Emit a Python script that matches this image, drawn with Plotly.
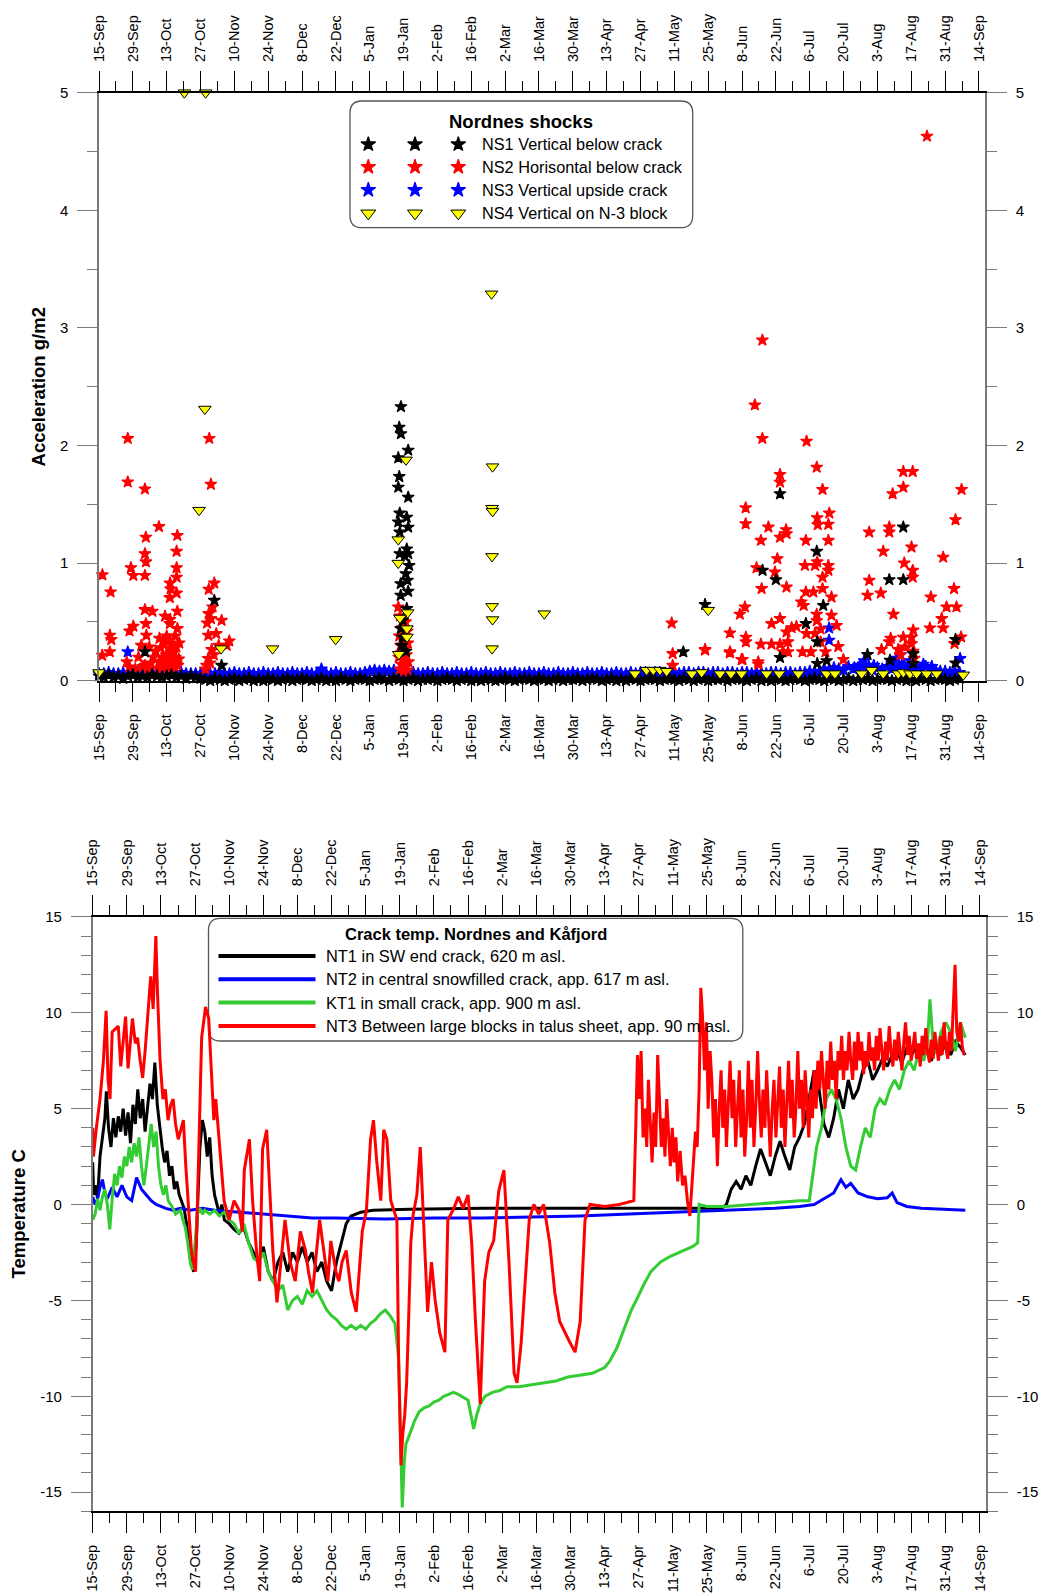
import numpy as np
import pandas as pd
import plotly.graph_objects as go

W, H = 1043, 1595
START = pd.Timestamp("2008-09-15")
END_DAY = 366.5
DAY_MS = 86400000

# ================= DATA =================
# Nordnes shocks, acceleration g/m2. Days counted from 15-Sep.
# Background readings (one value every 2 days from 15-Sep)
NS1_BASE = [0.04, 0.03, 0.05, 0.03, 0.04, 0.02, 0.04, 0.05, 0.03, 0.04,
            0.03, 0.05, 0.04, 0.03, 0.04, 0.05, 0.03, 0.04, 0.02, 0.04,
            0.03, 0.02, 0.01, 0.00, 0.02, 0.01, 0.00, 0.01, 0.02, 0.00,
            0.01, 0.02, 0.00, 0.01, 0.00, 0.02, 0.01, 0.00, 0.01, 0.02,
            0.00, 0.01, 0.02, 0.01, 0.00, 0.01, 0.02, 0.00, 0.01, 0.00,
            0.02, 0.01, 0.00, 0.01, 0.02, 0.01, 0.00, 0.01, 0.02, 0.01,
            0.00, 0.02, 0.01, 0.00, 0.01, 0.02, 0.00, 0.01, 0.01, 0.02,
            0.00, 0.01, 0.02, 0.01, 0.00, 0.01, 0.02, 0.00, 0.01, 0.00,
            0.02, 0.01, 0.00, 0.01, 0.02, 0.01, 0.00, 0.01, 0.02, 0.01,
            0.00, 0.02, 0.01, 0.00, 0.01, 0.02, 0.00, 0.01, 0.01, 0.02,
            0.00, 0.01, 0.02, 0.01, 0.00, 0.01, 0.02, 0.00, 0.01, 0.00,
            0.02, 0.01, 0.00, 0.01, 0.02, 0.01, 0.00, 0.01, 0.02, 0.01,
            0.00, 0.02, 0.01, 0.00, 0.01, 0.02, 0.00, 0.01, 0.01, 0.02,
            0.00, 0.01, 0.02, 0.01, 0.00, 0.01, 0.02, 0.00, 0.01, 0.00,
            0.02, 0.01, 0.00, 0.01, 0.02, 0.01, 0.00, 0.01, 0.02, 0.01,
            0.00, 0.02, 0.01, 0.00, 0.01, 0.02, 0.00, 0.01, 0.01, 0.02,
            0.00, 0.01, 0.02, 0.01, 0.00, 0.01, 0.02, 0.00, 0.01, 0.00,
            0.02, 0.01, 0.00, 0.01, 0.02, 0.01, 0.00, 0.01, 0.02]
NS3_BASE = [0.06, 0.06, 0.07, 0.06, 0.06, 0.07, 0.06, 0.06, 0.07, 0.06,
            0.06, 0.07, 0.06, 0.06, 0.07, 0.06, 0.06, 0.07, 0.06, 0.06,
            0.06, 0.06, 0.07, 0.06, 0.06, 0.07, 0.06, 0.06, 0.07, 0.06,
            0.06, 0.07, 0.06, 0.06, 0.07, 0.06, 0.06, 0.07, 0.06, 0.06,
            0.07, 0.06, 0.06, 0.07, 0.06, 0.06, 0.07, 0.06, 0.06, 0.07,
            0.06, 0.06, 0.07, 0.06, 0.06, 0.07, 0.08, 0.09, 0.08, 0.09,
            0.08, 0.09, 0.07, 0.06, 0.06, 0.07, 0.06, 0.06, 0.07, 0.06,
            0.06, 0.07, 0.06, 0.06, 0.07, 0.06, 0.06, 0.07, 0.06, 0.06,
            0.07, 0.06, 0.06, 0.07, 0.06, 0.06, 0.07, 0.06, 0.06, 0.07,
            0.06, 0.06, 0.07, 0.06, 0.06, 0.07, 0.06, 0.06, 0.07, 0.06,
            0.06, 0.07, 0.06, 0.06, 0.07, 0.06, 0.06, 0.07, 0.06, 0.06,
            0.07, 0.06, 0.07, 0.07, 0.06, 0.07, 0.07, 0.06, 0.07, 0.07,
            0.06, 0.07, 0.07, 0.06, 0.07, 0.07, 0.06, 0.07, 0.07, 0.06,
            0.07, 0.07, 0.06, 0.07, 0.07, 0.06, 0.07, 0.07, 0.06, 0.07,
            0.07, 0.06, 0.07, 0.07, 0.06, 0.07, 0.07, 0.08, 0.07, 0.08,
            0.10, 0.09, 0.11, 0.10, 0.09, 0.12, 0.10, 0.11, 0.13, 0.10,
            0.09, 0.11, 0.10, 0.12, 0.10, 0.11, 0.13, 0.10, 0.12, 0.11,
            0.10, 0.12, 0.10, 0.09, 0.08, 0.08, 0.07, 0.08, 0.07]

# Events: (day after 15-Sep, g/m2)
NS1_EVENTS = [(19.0, 0.245), (47.7, 0.683), (50.7, 0.13),
              (124.9, 2.33), (124.2, 2.155), (124.9, 2.10), (127.9, 1.96), (123.8, 1.895),
              (124.2, 1.736), (123.8, 1.645), (127.9, 1.56), (124.4, 1.425), (127.3, 1.39),
              (123.8, 1.35), (127.9, 1.305), (124.4, 1.263), (127.3, 1.12), (124.4, 1.08),
              (127.9, 1.08), (126.5, 1.06), (128.3, 0.98), (126.9, 0.91), (127.6, 0.853),
              (124.8, 0.825), (127.9, 0.76), (124.8, 0.726), (127.3, 0.613), (125.6, 0.513),
              (124.8, 0.443), (125.6, 0.372), (125.2, 0.30), (127.0, 0.25),
              (241.7, 0.245), (250.7, 0.647), (274.5, 0.938), (280.0, 0.859), (281.7, 1.589),
              (281.7, 0.197), (292.4, 0.486), (296.9, 1.10), (297.1, 0.33), (297.1, 0.146),
              (299.6, 0.64), (301.0, 0.17), (317.9, 0.222), (326.9, 0.859), (327.2, 0.174),
              (332.7, 1.306), (332.7, 0.859), (336.8, 0.23), (336.8, 0.146), (354.3, 0.35),
              (354.3, 0.15)]
NS2_EVENTS = [(11.9, 2.06), (45.6, 2.06), (11.9, 1.69), (46.3, 1.67), (19.0, 1.63), (24.8, 1.31),
              (19.4, 1.22), (32.4, 1.235), (19.0, 1.08), (19.4, 1.01), (32.1, 1.10), (13.2, 0.96),
              (14.2, 0.895), (19.0, 0.895), (32.1, 0.96), (32.1, 0.88), (1.4, 0.90), (4.8, 0.754),
              (29.4, 0.83), (29.6, 0.78), (32.1, 0.745), (29.3, 0.706), (19.0, 0.604), (22.1, 0.59),
              (32.4, 0.59), (27.3, 0.548), (29.4, 0.52), (29.3, 0.485), (19.4, 0.485), (14.2, 0.463),
              (12.6, 0.423), (32.4, 0.443), (4.5, 0.386), (5.1, 0.35), (19.6, 0.386), (29.3, 0.344),
              (4.5, 0.245), (1.3, 0.216), (11.5, 0.16), (12.6, 0.117), (16.3, 0.20), (20.8, 0.287),
              (19.0, 0.13), (22.5, 0.20), (26.2, 0.20), (28.3, 0.14), (30.3, 0.23), (32.0, 0.287),
              (33.0, 0.185), (31.2, 0.117), (27.3, 0.13), (24.9, 0.16), (29.3, 0.27),
              (24.5, 0.10), (25.5, 0.28), (26.0, 0.12), (26.8, 0.33), (27.8, 0.22), (28.6, 0.10),
              (29.8, 0.16), (30.6, 0.30), (31.6, 0.20), (32.6, 0.13), (33.2, 0.32), (23.5, 0.25),
              (25.0, 0.36), (28.0, 0.38), (30.0, 0.09), (31.5, 0.38), (15.0, 0.10), (17.5, 0.30),
              (18.2, 0.12), (20.0, 0.10), (21.5, 0.15),
              (45.4, 0.777), (47.7, 0.83), (47.0, 0.627), (45.4, 0.57), (46.3, 0.528), (44.7, 0.49),
              (50.7, 0.513), (45.2, 0.386), (53.9, 0.338), (52.8, 0.30), (46.6, 0.265), (45.2, 0.188),
              (44.5, 0.13), (44.0, 0.10), (46.0, 0.15), (47.5, 0.22), (48.5, 0.40), (49.5, 0.30),
              (123.8, 0.627), (124.5, 0.55), (126.8, 0.5), (125.5, 0.45), (127.5, 0.42), (124.2, 0.38),
              (126.2, 0.35), (127.8, 0.32), (124.8, 0.3), (126.5, 0.27), (125.2, 0.24), (127.2, 0.22),
              (124.0, 0.2), (126.0, 0.18), (128.0, 0.16), (125.0, 0.14), (126.8, 0.12), (124.5, 0.1),
              (127.5, 0.09), (125.8, 0.08),
              (236.9, 0.49), (237.3, 0.23), (237.3, 0.13), (250.7, 0.26), (261.0, 0.236),
              (265.8, 0.18), (272.7, 0.14),
              (274.4, 2.896), (271.3, 2.345), (274.4, 2.06), (292.7, 2.036), (296.9, 1.815),
              (281.7, 1.753), (281.7, 1.688), (299.3, 1.626), (332.7, 1.778), (336.6, 1.778),
              (332.7, 1.645), (328.3, 1.589), (356.8, 1.626), (267.5, 1.47), (267.5, 1.334),
              (276.9, 1.306), (273.8, 1.193), (281.7, 1.22), (284.2, 1.283), (284.4, 1.25),
              (292.4, 1.193), (297.1, 1.385), (297.3, 1.326), (301.7, 1.33), (302.1, 1.425),
              (301.7, 1.193), (318.6, 1.263), (326.9, 1.306), (326.9, 1.263), (324.4, 1.10),
              (336.1, 1.136), (333.1, 1.0), (336.6, 0.938), (336.6, 0.88), (349.2, 1.05),
              (354.3, 1.368), (280.6, 1.037), (272.0, 0.96), (279.6, 0.924), (292.0, 0.98),
              (296.2, 0.98), (301.7, 0.98), (301.7, 0.938), (297.1, 1.01), (299.3, 0.88),
              (274.1, 0.783), (284.4, 0.796), (292.4, 0.754), (295.5, 0.754), (299.3, 0.783),
              (303.0, 0.711), (317.9, 0.726), (323.4, 0.745), (318.6, 0.853), (344.1, 0.711),
              (353.7, 0.783), (350.6, 0.627), (354.7, 0.627), (348.6, 0.528), (349.2, 0.448),
              (343.7, 0.448), (336.8, 0.43), (356.6, 0.372), (353.9, 0.315), (328.6, 0.565),
              (336.1, 0.37), (336.1, 0.315), (332.7, 0.37), (326.9, 0.33), (323.7, 0.265),
              (330.6, 0.265), (333.4, 0.287), (267.2, 0.627), (265.1, 0.565), (261.0, 0.406),
              (261.0, 0.245), (250.7, 0.265), (267.6, 0.37), (267.6, 0.33), (273.8, 0.31),
              (278.2, 0.31), (266.2, 0.18), (272.7, 0.16), (278.2, 0.485), (281.7, 0.528),
              (284.4, 0.414), (286.5, 0.45), (288.5, 0.46), (285.0, 0.33), (281.7, 0.31),
              (283.0, 0.245), (285.0, 0.245), (291.0, 0.245), (294.5, 0.245), (290.5, 0.669),
              (291.5, 0.64), (292.7, 0.40), (296.9, 0.565), (296.9, 0.51), (296.2, 0.40),
              (298.5, 0.44), (298.5, 0.33), (300.5, 0.245), (303.0, 0.556), (305.1, 0.47),
              (305.8, 0.29), (307.9, 0.18), (327.5, 0.36), (331.6, 0.22), (336.8, 0.25),
              (337.2, 0.19), (342.5, 4.63)]
NS3_EVENTS = [(11.9, 0.245), (92.0, 0.10), (302.0, 0.448), (302.0, 0.344), (356.2, 0.188),
              (312.5, 0.11), (314.8, 0.13), (316.5, 0.17), (318.5, 0.12), (320.5, 0.13),
              (328.0, 0.15), (330.0, 0.19), (331.5, 0.22), (333.0, 0.14), (335.5, 0.17),
              (338.0, 0.12), (341.0, 0.14), (344.5, 0.12)]
NS4_EVENTS = [(35.3, 5.0), (44.1, 5.0), (43.8, 2.31), (41.4, 1.45), (50.5, 0.273), (71.8, 0.273),
              (97.9, 0.352), (127.0, 1.878), (123.8, 1.2), (123.8, 1.0), (127.7, 0.579),
              (124.5, 0.533), (127.4, 0.443), (127.4, 0.372), (124.0, 0.225),
              (162.4, 3.29), (162.8, 1.82), (162.6, 1.467), (162.8, 1.44), (162.6, 1.057),
              (162.6, 0.632), (162.8, 0.52), (162.6, 0.273), (184.2, 0.57), (252.0, 0.6),
              (0.0, 0.07), (221.7, 0.06), (226.5, 0.09), (229.3, 0.09), (232.0, 0.09),
              (234.8, 0.08), (245.2, 0.06), (249.3, 0.07), (256.9, 0.06), (261.4, 0.06),
              (265.8, 0.06), (276.2, 0.06), (281.4, 0.06), (289.3, 0.06), (301.0, 0.06),
              (304.4, 0.06), (315.5, 0.06), (319.6, 0.09), (324.4, 0.06), (330.6, 0.06),
              (332.7, 0.07), (335.5, 0.06), (338.2, 0.06), (342.4, 0.06), (346.5, 0.06),
              (357.5, 0.05)]

# Crack temperatures (deg C): (day after 15-Sep, value)
NT1 = [(0, 2.2), (0.4, 0.5), (1, 1.0), (2, 0.3), (3, 2.5), (4, 3.5), (5, 4.5), (5.6, 5.9),
       (6.5, 4.0), (7.5, 3.0), (8.5, 4.5), (9.5, 3.5), (10.5, 4.6), (11.5, 3.8), (12.5, 5.0),
       (13.5, 3.6), (14.5, 4.8), (15.5, 3.2), (16.5, 5.2), (17.5, 4.2), (18.5, 6.0), (19.5, 4.5),
       (20.5, 5.5), (21.5, 3.8), (22.5, 5.0), (23.5, 6.3), (24.5, 5.5), (25.5, 7.4), (26.5, 5.2),
       (27.5, 4.0), (28.5, 3.0), (29.5, 2.2), (30.5, 2.8), (31.5, 1.5), (32.5, 2.0), (33.5, 0.8),
       (34.5, 1.2), (35.5, 0.5), (36.5, 0.2), (37.5, -0.2), (38.5, -1.0), (39.5, -2.0),
       (40.5, -3.2), (41.5, -3.5), (42.5, -2.0), (43.2, 0.5), (44, 3.0), (45, 4.4), (46, 3.8),
       (47, 2.5), (48, 3.5), (49, 1.5), (50, 0.5), (51, 0.0), (52, -0.5), (53, 0.0), (54, -0.8),
       (56, -1.0), (58, -1.3), (60, -1.5), (62, -1.2), (64, -2.0), (66, -2.5), (68, -3.0),
       (70, -2.2), (72, -3.5), (74, -4.0), (76, -3.0), (78, -2.5), (80, -3.5), (82, -2.5),
       (84, -3.0), (86, -2.2), (88, -3.0), (90, -2.5), (92, -3.5), (94, -3.0), (96, -4.0),
       (98, -4.5), (100, -3.0), (102, -2.0), (104, -1.0), (106, -0.6), (108, -0.5), (110, -0.4),
       (115, -0.3), (130, -0.25), (160, -0.2), (200, -0.2), (240, -0.2), (258, -0.2), (260, 0.0),
       (262, 0.8), (264, 1.2), (266, 0.8), (268, 1.5), (270, 1.0), (272, 2.0), (274, 2.9),
       (276, 2.2), (278, 1.5), (280, 2.5), (282, 3.3), (284, 2.5), (286, 1.8), (288, 3.0),
       (290, 3.5), (292, 4.2), (294, 5.5), (296, 7.0), (298, 6.0), (300, 4.2), (302, 3.5),
       (304, 4.5), (306, 6.0), (308, 5.0), (310, 6.5), (312, 5.5), (314, 6.0), (316, 7.0),
       (318, 7.5), (320, 6.5), (322, 7.0), (324, 7.6), (326, 7.2), (328, 7.8), (330, 8.0),
       (332, 7.4), (334, 8.2), (336, 7.8), (338, 8.3), (340, 7.6), (342, 8.0), (344, 7.5),
       (346, 8.2), (348, 7.8), (350, 8.5), (352, 7.8), (354, 8.5), (356, 8.2), (358, 7.8)]
NT2 = [(0, 0.4), (1, 0.0), (2, 0.3), (3, 0.9), (4, 1.3), (5, 0.6), (6, 0.3), (8, 0.9), (10, 0.4),
       (12, 1.0), (14, 0.4), (16, 0.2), (18, 1.4), (20, 0.8), (22, 0.5), (24, 0.2), (26, 0.0),
       (28, -0.1), (30, -0.2), (33, -0.3), (36, -0.2), (40, -0.3), (45, -0.2), (50, -0.3),
       (60, -0.4), (70, -0.5), (80, -0.6), (90, -0.7), (100, -0.7), (120, -0.75), (140, -0.7),
       (160, -0.7), (180, -0.65), (200, -0.6), (220, -0.5), (240, -0.4), (260, -0.3),
       (280, -0.2), (290, -0.1), (296, 0.0), (300, 0.3), (304, 0.6), (307, 1.3), (309, 0.9),
       (311, 1.1), (314, 0.6), (318, 0.4), (322, 0.3), (326, 0.35), (328, 0.6), (330, 0.1),
       (334, -0.1), (340, -0.2), (358, -0.3)]
KT1 = [(0, -0.8), (1, -0.5), (2, 0.3), (3, -0.3), (4, 0.4), (5, 0.8), (6, 0.0), (7, -1.3),
       (8, 0.3), (9, 1.6), (10, 1.0), (11, 2.0), (12, 1.4), (13, 2.5), (14, 2.0), (15, 3.0),
       (16, 2.2), (17, 3.2), (18, 2.5), (19, 3.5), (20, 2.0), (21, 1.0), (22, 2.0), (23, 3.0),
       (24, 4.2), (25, 3.0), (26, 3.8), (27, 2.0), (28, 1.0), (29, 0.5), (30, 1.0), (31, 0.2),
       (32, 0.0), (33, -0.2), (34, -0.5), (36, -0.3), (37, -0.8), (38, -1.2), (39, -2.0),
       (40, -3.0), (41, -3.4), (42, -2.0), (43, -0.5), (44, -0.2), (45, -0.5), (46, -0.3),
       (48, -0.5), (50, -0.3), (52, -0.6), (54, -0.4), (56, -0.8), (58, -1.0), (60, -1.5),
       (62, -1.0), (64, -2.0), (66, -2.8), (68, -3.0), (70, -2.5), (72, -3.5), (74, -4.0),
       (76, -4.5), (78, -4.2), (80, -5.5), (82, -5.0), (84, -4.8), (86, -5.2), (88, -4.5),
       (90, -4.8), (92, -4.5), (94, -5.0), (96, -5.5), (98, -5.8), (100, -6.0), (102, -6.3),
       (104, -6.5), (106, -6.3), (108, -6.5), (110, -6.3), (112, -6.5), (114, -6.2),
       (116, -6.0), (118, -5.7), (120, -5.5), (122, -5.8), (124, -6.2), (125.5, -8.0),
       (126.3, -12.0), (127, -15.8), (127.8, -13.5), (128.5, -12.5), (130, -12.0),
       (132, -11.3), (134, -10.8), (136, -10.6), (138, -10.5), (140, -10.3), (142, -10.2),
       (144, -10.0), (146, -9.9), (148, -9.8), (150, -9.9), (154, -10.2), (156.3, -11.7),
       (157.5, -11.0), (159, -10.4), (161, -10.0), (164, -9.8), (167, -9.7), (170, -9.5),
       (175, -9.5), (180, -9.4), (185, -9.3), (190, -9.2), (195, -9.0), (200, -8.9),
       (205, -8.8), (210, -8.5), (212, -8.2), (215, -7.5), (218, -6.5), (221, -5.5),
       (223, -5.0), (226, -4.2), (229, -3.5), (233, -3.0), (237, -2.7), (242, -2.4),
       (246, -2.2), (248.2, -2.0), (248.8, 0.0), (252, -0.1), (260, -0.1), (270, 0.0),
       (280, 0.1), (290, 0.2), (294, 0.2), (295.5, 1.5), (297, 3.0), (299, 4.0), (301, 5.5),
       (303, 6.0), (305, 5.5), (307, 4.5), (309, 3.0), (311, 2.0), (313, 1.8), (315, 3.0),
       (317, 4.0), (319, 3.5), (321, 5.0), (323, 5.5), (325, 5.2), (327, 6.0), (329, 6.5),
       (331, 6.0), (333, 7.0), (335, 7.5), (337, 7.0), (339, 8.0), (341, 7.5), (342.5, 8.5),
       (343.5, 10.7), (345, 8.0), (346.5, 8.0), (348, 9.0), (350, 9.5), (352, 9.0), (354, 8.0),
       (356, 9.5), (358, 8.7)]
NT3 = [(0, 4.0), (0.3, 2.5), (1.5, 4.0), (3, 5.5), (4.4, 7.5), (5.5, 10.1), (6.3, 6.5),
       (7.1, 5.5), (8, 9.0), (9.5, 9.2), (10.5, 9.3), (11.5, 7.2), (12.5, 8.5), (13.5, 9.8),
       (14.5, 7.1), (15.5, 8.4), (16.3, 9.7), (17.5, 8.4), (18.4, 8.7), (19.5, 7.5), (20.5, 6.6),
       (21.5, 8.0), (22.5, 9.7), (23.8, 11.9), (24.8, 10.2), (25.9, 14.0), (26.6, 11.0),
       (27.6, 7.6), (28.8, 5.5), (29.8, 6.0), (30.9, 4.4), (32, 5.2), (33, 5.5), (34, 4.2),
       (35.1, 3.4), (36.2, 4.0), (37.2, 4.4), (38.2, 2.0), (39.2, 0.2), (40.5, -2.4),
       (41.3, -3.0), (42.2, -3.5), (43.0, 0.2), (43.8, 4.4), (44.7, 8.7), (45.5, 9.5),
       (46.3, 10.3), (47.6, 9.7), (48.9, 6.6), (49.7, 4.4), (50.5, 5.5), (51.8, 3.4),
       (53.0, 1.8), (53.9, 0.2), (56.0, -0.8), (58.0, 0.2), (60.1, -0.3), (61.4, -1.4),
       (62.2, 1.8), (64.3, 3.4), (65.6, 0.2), (67.2, -2.4), (68.5, -4.0), (69.7, 2.9),
       (71.4, 3.9), (72.7, 0.2), (73.9, -2.4), (75.6, -5.1), (76.8, -3.5), (78.9, -0.8),
       (81.0, -3.0), (83.1, -4.0), (85.2, -1.4), (87.3, -2.4), (88.5, -3.5), (90.2, -4.6),
       (91.4, -3.0), (93.1, -0.8), (94.8, -2.4), (96.5, -4.0), (97.7, -1.9), (99.8, -3.5),
       (101.0, -4.0), (102.3, -3.0), (104.0, -2.4), (106.1, -4.6), (108.1, -5.6),
       (109.4, -3.5), (110.6, -1.4), (112.3, -0.3), (114.0, 3.4), (115.2, 4.4), (116.5, 2.3),
       (118.2, 0.2), (119.4, 3.9), (120.7, 3.4), (122.3, 0.2), (124.8, -0.8), (125.5, -8.0),
       (126.5, -13.6), (127.2, -12.0), (128.0, -11.0), (128.8, -9.3), (129.6, -6.1),
       (130.5, -2.0), (131.5, -0.5), (133.0, 0.5), (134.4, 3.0), (135.5, 0.0), (137.4, -5.6),
       (139.0, -3.0), (140.5, -5.0), (142.4, -6.7), (144.5, -7.7), (145.7, -0.8), (147.8, -0.3),
       (150.0, 0.4), (152.0, -0.2), (154.0, 0.5), (155.5, -2.0), (157.0, -6.0), (158.2, -8.8),
       (159.0, -10.4), (160.8, -4.0), (162.5, -2.5), (164.5, -1.9), (166.6, 0.7), (168.7, 1.8),
       (170.8, -3.0), (172.9, -8.8), (174.1, -9.3), (175.8, -7.2), (179.1, -0.8), (181.0, 0.0),
       (183.0, -0.5), (185.0, 0.0), (187.5, -2.0), (189.6, -4.6), (191.6, -6.1), (195.8, -7.2),
       (197.9, -7.7), (200.0, -6.1), (202.0, -0.8), (204.0, 0.0), (210.0, -0.1), (216.0, 0.0),
       (222.0, 0.2), (222.8, 4.0), (223.5, 7.8), (224.2, 5.5), (225.0, 8.0), (225.8, 3.5),
       (226.5, 5.0), (227.3, 3.0), (228.0, 6.5), (228.8, 4.2), (229.5, 2.2), (230.3, 4.8),
       (231.0, 3.0), (231.8, 7.8), (232.5, 5.2), (233.3, 3.0), (234.0, 4.5), (234.8, 2.5),
       (235.5, 5.5), (236.3, 3.5), (237.0, 2.0), (237.8, 4.0), (238.5, 2.2), (239.3, 3.5),
       (240.0, 1.2), (241.0, 2.8), (242.0, 1.0), (243.0, 1.5), (244.0, 0.2), (245.0, -0.6),
       (245.8, 0.8), (246.5, 2.5), (247.3, 3.8), (248.0, 3.0), (248.8, 6.0), (249.5, 11.3),
       (250.2, 9.8), (251.0, 7.0), (251.8, 9.5), (252.5, 5.0), (253.3, 8.0), (254.0, 6.5),
       (254.8, 3.5), (255.5, 5.5), (256.3, 2.0), (257.0, 4.8), (257.8, 7.0), (258.5, 4.0),
       (259.3, 6.0), (260.0, 3.0), (260.8, 5.5), (261.5, 7.5), (262.3, 4.5), (263.0, 6.5),
       (263.8, 3.0), (264.5, 5.0), (265.3, 7.0), (266.0, 3.5), (266.8, 6.0), (267.5, 2.5),
       (268.3, 4.5), (269.0, 7.5), (269.8, 4.0), (270.5, 6.5), (271.3, 3.0), (272.0, 5.0),
       (272.8, 8.0), (273.5, 5.5), (274.3, 3.5), (275.0, 6.0), (275.8, 4.0), (276.5, 7.0),
       (277.3, 4.5), (278.0, 2.5), (278.8, 5.0), (279.5, 6.5), (280.3, 3.5), (281.0, 5.5),
       (281.8, 7.2), (282.5, 4.0), (283.3, 6.0), (284.0, 3.0), (284.8, 5.5), (285.5, 7.5),
       (286.3, 4.5), (287.0, 6.5), (287.8, 3.5), (288.5, 5.0), (289.3, 8.0), (290.0, 5.0),
       (290.8, 6.5), (291.5, 4.0), (292.3, 7.0), (293.0, 5.5), (293.8, 3.5), (294.5, 6.0),
       (295.3, 4.5), (296.0, 7.0), (296.8, 5.0), (297.5, 7.5), (298.3, 6.0), (299.0, 8.0),
       (299.8, 6.5), (300.5, 5.0), (301.3, 7.5), (302.0, 6.0), (302.8, 8.5), (303.5, 6.5),
       (304.3, 7.5), (305.0, 5.5), (305.8, 8.0), (306.5, 7.0), (307.3, 8.8), (308.0, 6.5),
       (308.8, 8.0), (309.5, 7.0), (310.3, 9.0), (311.0, 7.5), (311.8, 6.5), (312.5, 8.5),
       (313.3, 7.0), (314.0, 9.0), (314.8, 7.5), (315.5, 8.5), (316.3, 6.8), (317.0, 8.0),
       (317.8, 7.2), (318.5, 9.0), (319.3, 7.5), (320.0, 8.2), (320.8, 7.0), (321.5, 8.8),
       (322.3, 7.5), (323.0, 9.2), (323.8, 8.0), (324.5, 7.0), (325.3, 8.5), (326.0, 7.5),
       (326.8, 9.3), (327.5, 8.0), (328.3, 7.2), (329.0, 8.6), (329.8, 7.5), (330.5, 9.0),
       (331.3, 8.0), (332.0, 7.0), (332.8, 8.5), (333.5, 9.5), (334.3, 7.8), (335.0, 8.8),
       (335.8, 7.5), (336.5, 8.3), (337.3, 9.0), (338.0, 7.6), (338.8, 8.4), (339.5, 7.2),
       (340.3, 8.8), (341.0, 7.8), (341.8, 9.2), (342.5, 8.0), (343.3, 7.4), (344.0, 8.6),
       (344.8, 7.6), (345.5, 9.0), (346.3, 8.0), (347.0, 7.5), (347.8, 8.8), (348.5, 7.8),
       (349.3, 9.5), (350.0, 8.2), (350.8, 7.6), (351.5, 9.0), (352.3, 8.0), (353.0, 9.8),
       (353.8, 12.5), (354.5, 9.0), (355.3, 8.5), (356.0, 9.5), (356.8, 8.2), (357.5, 7.8)]

SHOCK_SERIES = ["NS1 Vertical below crack", "NS2 Horisontal below crack",
                "NS3 Vertical upside crack", "NS4 Vertical on N-3 block"]
TEMP_SERIES = ["NT1 in SW end crack, 620 m asl.",
               "NT2 in central snowfilled crack, app. 617 m asl.",
               "KT1 in small crack, app. 900 m asl.",
               "NT3 Between large blocks in talus sheet, app. 90 m asl."]
TEMP_TICKS = [-15, -10, -5, 0, 5, 10, 15]
TEMP_TICKTEXT = ["-15", "-10", "-5", "0", "5", "10", "15"]

# ================= STYLE / LAYOUT =================
FONT = "Liberation Sans, Arial, sans-serif"
C_BLACK, C_RED, C_BLUE, C_YEL, C_GREEN = "#000000", "#ff0000", "#0000ff", "#ffff00", "#33cc33"
YGREY = "#7a7a7a"

TOP_X0, TOP_X1 = 99.0, 985.0
TOP_Y0, TOP_Y1 = 92.7, 680.7
BOT_X0, BOT_X1 = 92.7, 986.0
BOT_Y0, BOT_Y1 = 916.9, 1511.3


def fx(x):
    return x / W


def fy(y):
    return 1 - y / H


def to_dates(days):
    return START + pd.to_timedelta(np.asarray(days, dtype=float), unit="D")


def split(points):
    return [p[0] for p in points], [p[1] for p in points]


START_STR = START.strftime("%Y-%m-%d")
X_RANGE = [START_STR, (START + pd.Timedelta(days=END_DAY)).strftime("%Y-%m-%d %H:%M")]
TICKFONT = dict(family=FONT, size=14.5, color="black")


def xaxis(domain, anchor, side, overlaying=None):
    d = dict(type="date", domain=domain, anchor=anchor, side=side, range=X_RANGE,
             tick0=START_STR, dtick=14 * DAY_MS, tickformat="%-d-%b", tickangle=-90,
             ticks="outside", ticklen=20, tickwidth=1.3, tickcolor="black",
             showline=True, linecolor="black", linewidth=1.5, showgrid=False,
             zeroline=False, tickfont=TICKFONT, ticklabelstandoff=6, fixedrange=True,
             automargin=False,
             minor=dict(dtick=7 * DAY_MS, tick0=START_STR, ticks="outside", ticklen=10,
                        tickwidth=1.3, tickcolor="black", showgrid=False))
    if overlaying:
        d["overlaying"] = overlaying
    return d


def yaxis(domain, anchor, side, rng, dtick, minor, overlaying=None, tickvals=None,
          ticktext=None):
    d = dict(domain=domain, anchor=anchor, side=side, range=rng, tick0=0, dtick=dtick,
             ticks="outside", ticklen=20, tickwidth=1.3, tickcolor=YGREY,
             showline=True, linecolor=YGREY, linewidth=1.5, showgrid=False,
             zeroline=False, tickfont=dict(family=FONT, size=15, color="black"),
             ticklabelstandoff=6, fixedrange=True, automargin=False,
             minor=dict(dtick=minor, tick0=0, ticks="outside", ticklen=10, tickwidth=1.3,
                        tickcolor=YGREY, showgrid=False))
    if tickvals is not None:
        d.update(tickmode="array", tickvals=tickvals, ticktext=ticktext)
    if overlaying:
        d["overlaying"] = overlaying
    return d


fig = go.Figure()

# ---------- top chart: shocks ----------
STAR = 9
TRI = 11


def add_shock(days, vals, color, symbol, size, outline=None):
    line = dict(width=1, color="black") if outline else dict(width=1.2, color=color)
    fig.add_trace(go.Scatter(
        x=to_dates(days), y=vals, mode="markers", xaxis="x", yaxis="y",
        cliponaxis=False, hoverinfo="skip",
        marker=dict(symbol=symbol, size=size, color=color, line=line)))


base_days = [2 * i for i in range(len(NS3_BASE))]
d, v = split(NS3_EVENTS)
add_shock(base_days + d, NS3_BASE + v, C_BLUE, "star", STAR)
d, v = split(NS2_EVENTS)
add_shock(d, v, C_RED, "star", STAR)
base_days = [2 * i for i in range(len(NS1_BASE))]
d, v = split(NS1_EVENTS)
add_shock(base_days + d, NS1_BASE + v, C_BLACK, "star", STAR)
d, v = split(NS4_EVENTS)
add_shock(d, v, C_YEL, "triangle-down", TRI, outline=True)

# dummy traces so that the mirrored axes exist
fig.add_trace(go.Scatter(x=[], y=[], xaxis="x2", yaxis="y", showlegend=False))
fig.add_trace(go.Scatter(x=[], y=[], xaxis="x", yaxis="y2", showlegend=False))

# ---------- bottom chart: temperatures ----------
for pts, color in [(NT1, C_BLACK), (NT2, C_BLUE), (KT1, C_GREEN), (NT3, C_RED)]:
    d, v = split(pts)
    fig.add_trace(go.Scatter(x=to_dates(d), y=v, mode="lines", xaxis="x3", yaxis="y3",
                             hoverinfo="skip", line=dict(color=color, width=3)))
fig.add_trace(go.Scatter(x=[], y=[], xaxis="x4", yaxis="y3", showlegend=False))
fig.add_trace(go.Scatter(x=[], y=[], xaxis="x3", yaxis="y4", showlegend=False))

# ---------- legend (top) symbols, drawn in a pixel-space overlay ----------
LEG1 = dict(x0=350, y0=101, x1=692.7, y1=227.7, title_y=121.7,
            cols=[368.3, 415.0, 458.3], rows=[144.3, 167.0, 190.0, 213.3], text_x=480)
styles = [(C_BLACK, "star", STAR, False), (C_RED, "star", STAR, False),
          (C_BLUE, "star", STAR, False), (C_YEL, "triangle-down", TRI, True)]
for (color, sym, size, ol), ry in zip(styles, LEG1["rows"]):
    line = dict(width=1, color="black") if ol else dict(width=1.2, color=color)
    fig.add_trace(go.Scatter(x=LEG1["cols"], y=[ry] * 3, mode="markers", xaxis="x5",
                             yaxis="y5", hoverinfo="skip", cliponaxis=False,
                             marker=dict(symbol=sym, size=size + 2, color=color, line=line)))

LEG2 = dict(x0=208.5, y0=918.3, x1=742.8, y1=1041, title_x=475.5, title_y=934.5,
            line_x=[218.5, 315.5], rows=[956.0, 979.3, 1002.6, 1025.9], text_x=323.5)


def rounded_path(x0, y0, x1, y1, r):
    P = lambda x, y: f"{fx(x):.5f},{fy(y):.5f}"
    return (f"M {P(x0 + r, y0)} L {P(x1 - r, y0)} Q {P(x1, y0)} {P(x1, y0 + r)} "
            f"L {P(x1, y1 - r)} Q {P(x1, y1)} {P(x1 - r, y1)} L {P(x0 + r, y1)} "
            f"Q {P(x0, y1)} {P(x0, y1 - r)} L {P(x0, y0 + r)} Q {P(x0, y0)} {P(x0 + r, y0)} Z")


shapes = []
for L in (LEG1, LEG2):
    shapes.append(dict(type="path", xref="paper", yref="paper", layer="below",
                       path=rounded_path(L["x0"], L["y0"], L["x1"], L["y1"], 12),
                       fillcolor="white", line=dict(color="#555555", width=1.3)))
for color, ry in zip([C_BLACK, C_BLUE, C_GREEN, C_RED], LEG2["rows"]):
    shapes.append(dict(type="line", xref="paper", yref="paper", layer="below",
                       x0=fx(LEG2["line_x"][0]), x1=fx(LEG2["line_x"][1]),
                       y0=fy(ry), y1=fy(ry), line=dict(color=color, width=4)))

annotations = []
annotations.append(dict(text="<b>Nordnes shocks</b>", x=fx((LEG1["x0"] + LEG1["x1"]) / 2),
                        y=fy(LEG1["title_y"]), xref="paper", yref="paper", showarrow=False,
                        xanchor="center", yanchor="middle",
                        font=dict(family=FONT, size=18.5, color="black")))
for name, ry in zip(SHOCK_SERIES, LEG1["rows"]):
    annotations.append(dict(text=name, x=fx(LEG1["text_x"]), y=fy(ry), xref="paper",
                            yref="paper", showarrow=False, xanchor="left", yanchor="middle",
                            font=dict(family=FONT, size=16.3, color="black")))
annotations.append(dict(text="<b>Crack temp. Nordnes and Kåfjord</b>",
                        x=fx(LEG2["title_x"]), y=fy(LEG2["title_y"]), xref="paper",
                        yref="paper", showarrow=False, xanchor="center", yanchor="middle",
                        font=dict(family=FONT, size=16.5, color="black")))
for name, ry in zip(TEMP_SERIES, LEG2["rows"]):
    annotations.append(dict(text=name, x=fx(LEG2["text_x"]), y=fy(ry), xref="paper",
                            yref="paper", showarrow=False, xanchor="left", yanchor="middle",
                            font=dict(family=FONT, size=16.4, color="black")))
annotations.append(dict(text="<b>Acceleration g/m2</b>", x=fx(38.7),
                        y=fy((TOP_Y0 + TOP_Y1) / 2), xref="paper", yref="paper",
                        showarrow=False, textangle=-90, xanchor="center", yanchor="middle",
                        font=dict(family=FONT, size=18.5, color="black")))
annotations.append(dict(text="<b>Temperature C</b>", x=fx(18.3),
                        y=fy((BOT_Y0 + BOT_Y1) / 2), xref="paper", yref="paper",
                        showarrow=False, textangle=-90, xanchor="center", yanchor="middle",
                        font=dict(family=FONT, size=18.5, color="black")))

top_xd = [fx(TOP_X0), fx(TOP_X1)]
top_yd = [fy(TOP_Y1), fy(TOP_Y0)]
bot_xd = [fx(BOT_X0), fx(BOT_X1)]
bot_yd = [fy(BOT_Y1), fy(BOT_Y0)]

fig.update_layout(
    width=W, height=H, margin=dict(l=0, r=0, t=0, b=0, pad=0, autoexpand=False),
    autosize=False, paper_bgcolor="white", plot_bgcolor="rgba(0,0,0,0)", showlegend=False,
    font=dict(family=FONT, color="black"),
    xaxis=xaxis(top_xd, "y", "bottom"),
    xaxis2=xaxis(top_xd, "y", "top", overlaying="x"),
    yaxis=yaxis(top_yd, "x", "left", [0, 5], 1, 0.5),
    yaxis2=yaxis(top_yd, "x", "right", [0, 5], 1, 0.5, overlaying="y"),
    xaxis3=xaxis(bot_xd, "y3", "bottom"),
    xaxis4=xaxis(bot_xd, "y3", "top", overlaying="x3"),
    yaxis3=yaxis(bot_yd, "x3", "left", [-16, 15], 5, 1, tickvals=TEMP_TICKS,
                 ticktext=TEMP_TICKTEXT),
    yaxis4=yaxis(bot_yd, "x3", "right", [-16, 15], 5, 1, overlaying="y3",
                 tickvals=TEMP_TICKS, ticktext=TEMP_TICKTEXT),
    xaxis5=dict(domain=[0, 1], range=[0, W], visible=False, anchor="y5", fixedrange=True,
                automargin=False),
    yaxis5=dict(domain=[0, 1], range=[H, 0], visible=False, anchor="x5", fixedrange=True,
                automargin=False),
    shapes=shapes, annotations=annotations,
)

fig.write_html("out.html", config={"responsive": False})
